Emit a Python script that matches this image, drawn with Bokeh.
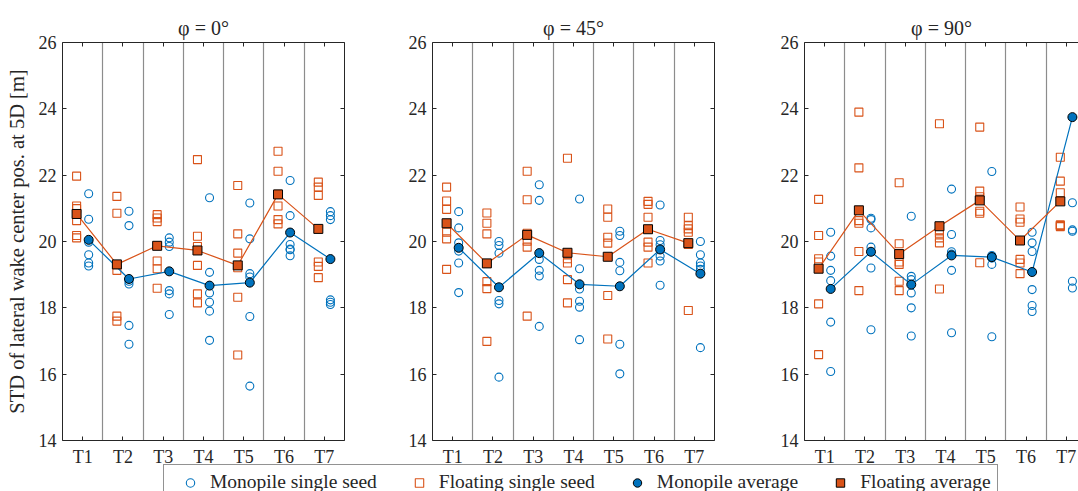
import numpy as np
from bokeh.plotting import figure
from bokeh.models import (ColumnDataSource, FixedTicker, LinearAxis, Range1d,
                          Legend, LegendItem)
from bokeh.layouts import row, column
from bokeh.transform import dodge
from bokeh.embed import file_html
from bokeh.resources import INLINE

# ---------------------------------------------------------------- data
turbines = ["T1", "T2", "T3", "T4", "T5", "T6", "T7"]
y_ticks = [14, 16, 18, 20, 22, 24, 26]
panel_titles = ["φ = 0°", "φ = 45°", "φ = 90°"]
y_label = "STD of lateral wake center pos. at 5D [m]"

# six seeds per turbine, STD of lateral wake centre position [m]
mono_seeds_0 = [
    [21.44, 20.67, 19.98, 19.60, 19.35, 19.26],
    [20.91, 20.48, 18.80, 18.72, 17.47, 16.90],
    [20.11, 19.98, 19.85, 18.52, 18.42, 17.80],
    [21.32, 19.07, 18.45, 18.17, 17.90, 17.02],
    [21.16, 20.08, 19.03, 18.93, 17.74, 15.64],
    [21.84, 20.78, 19.91, 19.77, 19.75, 19.57],
    [20.90, 20.78, 20.66, 18.24, 18.17, 18.10],
]
mono_avg_0 = [20.05, 18.87, 19.10, 18.67, 18.76, 20.27, 19.47]
float_seeds_0 = [
    [21.97, 21.07, 20.99, 20.63, 20.18, 20.11],
    [21.36, 20.85, 19.30, 19.13, 17.75, 17.60],
    [20.81, 20.71, 20.60, 19.41, 19.18, 18.59],
    [22.47, 20.16, 19.85, 19.28, 18.42, 18.15],
    [21.69, 20.23, 19.65, 19.21, 18.32, 16.58],
    [22.72, 22.12, 21.42, 21.07, 20.66, 20.53],
    [21.79, 21.64, 21.39, 19.38, 19.25, 18.91],
]
float_avg_0 = [20.83, 19.31, 19.87, 19.73, 19.28, 21.42, 20.38]

mono_seeds_45 = [
    [20.90, 20.41, 19.96, 19.71, 19.35, 18.46],
    [20.00, 19.88, 19.65, 18.22, 18.12, 15.91],
    [21.71, 21.24, 19.46, 19.13, 18.96, 17.44],
    [21.28, 19.18, 18.57, 18.20, 18.02, 17.04],
    [20.31, 20.18, 19.37, 19.12, 16.90, 16.01],
    [21.10, 20.03, 19.90, 19.56, 19.41, 18.68],
    [20.00, 19.60, 19.35, 19.26, 19.16, 16.80],
]
mono_avg_45 = [19.81, 18.62, 19.65, 18.71, 18.65, 19.76, 19.03]
float_seeds_45 = [
    [21.64, 21.22, 20.97, 20.28, 20.08, 19.16],
    [20.86, 20.55, 20.23, 18.79, 18.58, 16.99],
    [22.12, 21.26, 20.25, 20.01, 19.83, 17.75],
    [22.51, 19.62, 19.48, 19.35, 18.85, 18.15],
    [20.98, 20.73, 20.13, 19.95, 18.37, 17.06],
    [21.21, 21.12, 20.73, 19.98, 19.83, 19.35],
    [20.73, 20.48, 20.38, 20.28, 19.91, 17.92],
]
float_avg_45 = [20.55, 19.34, 20.20, 19.66, 19.54, 20.37, 19.95]

mono_seeds_90 = [
    [20.28, 19.56, 19.13, 18.82, 17.57, 16.08],
    [20.70, 20.66, 20.41, 19.83, 19.20, 17.34],
    [20.76, 18.95, 18.85, 18.45, 18.00, 17.15],
    [21.58, 20.21, 19.69, 19.62, 19.13, 17.25],
    [22.11, 19.58, 19.55, 19.50, 19.31, 17.13],
    [20.28, 19.96, 19.70, 18.55, 18.07, 17.89],
    [43.30, 21.17, 20.35, 20.31, 18.80, 18.60],
]
mono_avg_90 = [18.57, 19.69, 18.70, 19.58, 19.53, 19.08, 23.75]
float_seeds_90 = [
    [21.27, 20.18, 19.48, 19.38, 18.12, 16.59],
    [23.90, 22.22, 20.63, 20.55, 19.70, 18.52],
    [21.77, 19.93, 19.38, 19.31, 18.80, 18.52],
    [23.55, 20.32, 20.25, 20.11, 19.96, 18.57],
    [23.45, 21.52, 21.35, 20.91, 20.85, 19.36],
    [21.04, 20.68, 20.58, 19.46, 19.35, 19.03],
    [22.54, 21.82, 21.47, 20.50, 20.48, 20.45],
]
float_avg_90 = [19.18, 20.94, 19.62, 20.46, 21.24, 20.03, 21.21]

legend_labels = ["Monopile single seed", "Floating single seed",
                 "Monopile average", "Floating average"]

# ---------------------------------------------------------------- style
BLUE = "#0072BD"
ORANGE = "#D95319"
INK = "#262626"
SEP = "#8c8c8c"
FONT = "Liberation Serif"
FS = "18px"

ROW_H = 469
FRAME_H = 398
TOP = 42
CELL = 282 / 7.0
OFF = 0.15
OVERLAP = 6

xpos = list(range(1, len(turbines) + 1))


def seed_source(seeds):
    xs, ys = [], []
    for x, vals in zip(xpos, seeds):
        xs += [x] * len(vals)
        ys += list(vals)
    return ColumnDataSource(dict(x=xs, y=ys))


def style_axis(ax):
    ax.axis_line_color = INK
    ax.axis_line_width = 1
    ax.major_tick_line_color = INK
    ax.major_tick_in = 4
    ax.major_tick_out = 0
    ax.minor_tick_line_color = None
    ax.major_label_text_font = FONT
    ax.major_label_text_font_size = FS
    ax.major_label_text_color = INK


def make_panel(title, mono, mono_avg, flt, flt_avg, width, left, right,
               frame_w, show_ylabel=False, right_axis=True):
    x_end = 0.5 + frame_w / CELL
    p = figure(width=width, height=ROW_H,
               x_range=Range1d(0.5, x_end), y_range=Range1d(14, 26),
               output_backend="svg", toolbar_location=None,
               min_border_left=left, min_border_right=right,
               min_border_top=TOP, min_border_bottom=ROW_H - TOP - FRAME_H,
               title=title)
    p.outline_line_color = None
    p.background_fill_color = "white"
    p.border_fill_color = "white"

    p.title.align = "center"
    p.title.vertical_align = "top"
    p.title.text_font = FONT
    p.title.text_font_size = "20px"
    p.title.text_font_style = "normal"
    p.title.text_color = INK
    p.title.standoff = 4

    # bottom axis with turbine names
    p.xaxis.ticker = FixedTicker(ticks=xpos)
    p.xaxis.major_label_overrides = {x: t for x, t in zip(xpos, turbines)}
    p.xaxis.major_label_standoff = 6
    style_axis(p.xaxis)

    # left axis
    p.yaxis.ticker = FixedTicker(ticks=y_ticks)
    p.yaxis.major_label_standoff = 6
    style_axis(p.yaxis)
    if show_ylabel:
        p.yaxis.axis_label = y_label
        p.yaxis.axis_label_text_font = FONT
        p.yaxis.axis_label_text_font_size = "20.5px"
        p.yaxis.axis_label_text_font_style = "normal"
        p.yaxis.axis_label_text_color = INK
        p.yaxis.axis_label_standoff = 8

    # box: ticks also on top (and right)
    top_ax = LinearAxis(ticker=FixedTicker(ticks=xpos),
                        major_label_overrides={x: "" for x in xpos},
                        major_label_standoff=0)
    style_axis(top_ax)
    top_ax.major_label_text_font_size = "1px"
    p.add_layout(top_ax, "above")
    if right_axis:
        right_ax = LinearAxis(ticker=FixedTicker(ticks=y_ticks),
                              major_label_overrides={y: "" for y in y_ticks},
                              major_label_standoff=0)
        style_axis(right_ax)
        right_ax.major_label_text_font_size = "1px"
        p.add_layout(right_ax, "right")

    # turbine separators
    p.ygrid.grid_line_color = None
    p.xgrid.ticker = FixedTicker(ticks=[x + 0.5 for x in xpos[:-1]])
    p.xgrid.grid_line_color = SEP
    p.xgrid.grid_line_width = 1.2

    ms = seed_source(mono)
    fs = seed_source(flt)
    p.scatter(x=dodge("x", OFF, range=p.x_range), y="y", source=ms,
              marker="circle", size=8, fill_color=None, line_color=BLUE,
              line_width=1.1)
    p.scatter(x=dodge("x", -OFF, range=p.x_range), y="y", source=fs,
              marker="square", size=8, fill_color=None, line_color=ORANGE,
              line_width=1.1)

    avg = ColumnDataSource(dict(x=xpos, mono=mono_avg, flt=flt_avg))
    p.line(x=dodge("x", OFF, range=p.x_range), y="mono", source=avg,
           line_color=BLUE, line_width=1.2)
    p.scatter(x=dodge("x", OFF, range=p.x_range), y="mono", source=avg,
              marker="circle", size=9, fill_color=BLUE, line_color="black",
              line_width=1)
    p.line(x=dodge("x", -OFF, range=p.x_range), y="flt", source=avg,
           line_color=ORANGE, line_width=1.2)
    p.scatter(x=dodge("x", -OFF, range=p.x_range), y="flt", source=avg,
              marker="square", size=9, fill_color=ORANGE, line_color="black",
              line_width=1)
    return p


p1 = make_panel(panel_titles[0], mono_seeds_0, mono_avg_0, float_seeds_0,
                float_avg_0, width=388, left=62, right=44, frame_w=282,
                show_ylabel=True)
p2 = make_panel(panel_titles[1], mono_seeds_45, mono_avg_45, float_seeds_45,
                float_avg_45, width=372, left=44, right=46, frame_w=282)
p3 = make_panel(panel_titles[2], mono_seeds_90, mono_avg_90, float_seeds_90,
                float_avg_90, width=318, left=44, right=0, frame_w=274,
                right_axis=False)

# ---------------------------------------------------------------- legend strip
LEG_H = 491 - ROW_H + OVERLAP
lg = figure(width=1078, height=LEG_H, x_range=Range1d(0, 1),
            y_range=Range1d(0, 1), output_backend="svg",
            toolbar_location=None, min_border=0,
            x_axis_location=None, y_axis_location=None,
            margin=(-OVERLAP, 0, 0, 0))
lg.outline_line_color = None
lg.background_fill_color = None
lg.border_fill_color = None
lg.grid.visible = False
# legend proxies: a single NaN point each, so nothing shows in the strip
proxy = ColumnDataSource(dict(x=[np.nan], y=[np.nan]))
r1 = lg.scatter(x="x", y="y", source=proxy, marker="circle", size=8,
                fill_color=None, line_color=BLUE, line_width=1.1)
r2 = lg.scatter(x="x", y="y", source=proxy, marker="square", size=8,
                fill_color=None, line_color=ORANGE, line_width=1.1)
r3 = lg.scatter(x="x", y="y", source=proxy, marker="circle", size=9,
                fill_color=BLUE, line_color="black", line_width=1)
r4 = lg.scatter(x="x", y="y", source=proxy, marker="square", size=9,
                fill_color=ORANGE, line_color="black", line_width=1)
legend = Legend(
    items=[LegendItem(label=l, renderers=[r]) for l, r in
           zip(legend_labels, [r1, r2, r3, r4])],
    orientation="horizontal", location=(163, -9),
    glyph_width=40, glyph_height=21, label_standoff=-1, spacing=22,
    padding=6, margin=0,
    label_text_font=FONT, label_text_font_size="19.5px", label_text_color=INK,
    border_line_color=INK, border_line_width=1,
    background_fill_color="white", background_fill_alpha=1,
)
lg.add_layout(legend, "center")

layout = column(row(p1, p2, p3), lg)
open("out.html", "w").write(file_html(layout, INLINE))
